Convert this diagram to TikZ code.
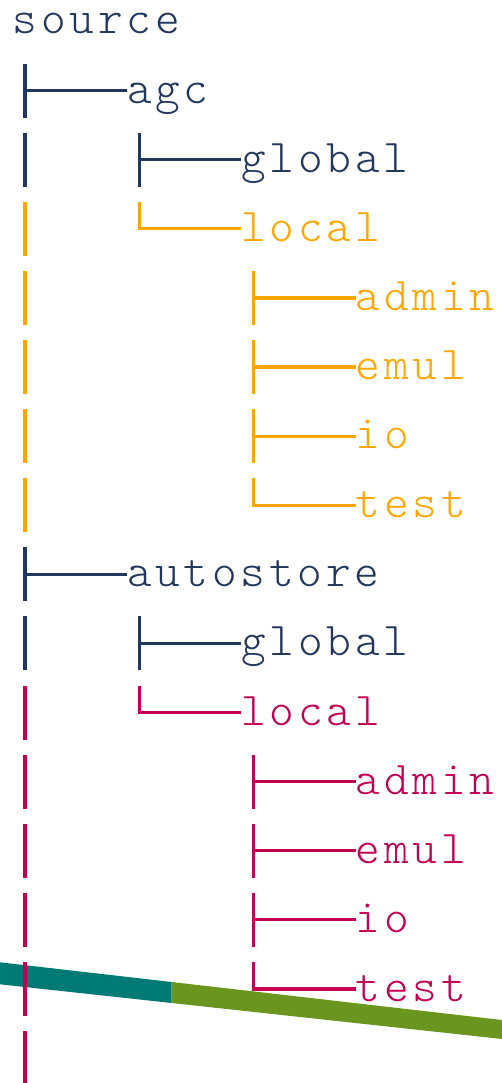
\documentclass[tikz,border=0pt]{standalone}
\usepackage{fontspec}
% light typewriter face, tracked out to a 28.5pt character pitch
\newfontfamily\treefont{lmmonolt10-regular.otf}[LetterSpace=8.14]
\definecolor{navy}{HTML}{22375E}
\definecolor{amber}{HTML}{FFA500}
\definecolor{crimson}{HTML}{C30052}
\definecolor{bandteal}{HTML}{007A74}
\definecolor{bandolive}{HTML}{6A961F}
\tikzset{
  lbl/.style={inner sep=0pt, outer sep=0pt, anchor=base west,
    text height=20pt, text depth=0pt,
    font=\treefont\fontsize{47}{47}\selectfont},
  link/.style={line width=3.2pt},
}
\begin{document}
\begin{tikzpicture}[x=1pt, y=-1pt]
\useasboundingbox (0,0) rectangle (502,1083);

% diagonal band behind the tree
\fill[bandteal]  (0,962.3) -- (171.7,982.0) -- (171.7,1003.0) -- (0,984.3) -- cycle;
\fill[bandolive] (171.7,982.0) -- (502,1020) -- (502,1039) -- (171.7,1003.0) -- cycle;

% row centres
\foreach \i in {0,...,15} \coordinate (r\i) at (0,{21.5+69.1*\i});

% labels
\node[lbl, text=navy]    (src)  at (12.6,34)     {source};
\node[lbl, text=navy]    (agc)  at (127.0,103.1) {agc};
\node[lbl, text=navy]    (ag)   at (241.4,172.2) {global};
\node[lbl, text=amber]   (al)   at (241.4,241.3) {local};
\node[lbl, text=amber]   (aad)  at (355.8,310.4) {admin};
\node[lbl, text=amber]   (aem)  at (355.8,379.5) {emul};
\node[lbl, text=amber]   (aio)  at (355.8,448.6) {io};
\node[lbl, text=amber]   (ate)  at (355.8,517.7) {test};
\node[lbl, text=navy]    (aus)  at (127.0,586.8) {autostore};
\node[lbl, text=navy]    (sg)   at (241.4,655.9) {global};
\node[lbl, text=crimson] (sl)   at (241.4,725.0) {local};
\node[lbl, text=crimson] (sad)  at (355.8,794.1) {admin};
\node[lbl, text=crimson] (sem)  at (355.8,863.2) {emul};
\node[lbl, text=crimson] (sio)  at (355.8,932.3) {io};
\node[lbl, text=crimson] (ste)  at (355.8,1001.4){test};

% column positions of the tree guides
\coordinate (c0) at (25,0);
\coordinate (c1) at (139.4,0);
\coordinate (c2) at (253.8,0);

% source -> agc
\draw[link, navy] ([yshift=27pt]c0 |- r1) -- ([yshift=-27pt]c0 |- r1);
\draw[link, navy] (c0 |- r1) -- (agc.west |- r1);
% agc -> global
\draw[link, navy] ([yshift=27pt]c0 |- r2) -- ([yshift=-27pt]c0 |- r2);
\draw[link, navy] ([yshift=27pt]c1 |- r2) -- ([yshift=-27pt]c1 |- r2);
\draw[link, navy] (c1 |- r2) -- (ag.west |- r2);
% agc -> local
\draw[link, amber] ([yshift=27pt]c0 |- r3) -- ([yshift=-27pt]c0 |- r3);
\draw[link, amber] ([yshift=27pt]c1 |- r3) -- (c1 |- r3) -- (al.west |- r3);
% local -> admin, emul, io, test
\foreach \row/\leaf in {4/aad, 5/aem, 6/aio} {
  \draw[link, amber] ([yshift=27pt]c0 |- r\row) -- ([yshift=-27pt]c0 |- r\row);
  \draw[link, amber] ([yshift=27pt]c2 |- r\row) -- ([yshift=-27pt]c2 |- r\row);
  \draw[link, amber] (c2 |- r\row) -- (\leaf.west |- r\row);
}
\draw[link, amber] ([yshift=27pt]c0 |- r7) -- ([yshift=-27pt]c0 |- r7);
\draw[link, amber] ([yshift=27pt]c2 |- r7) -- (c2 |- r7) -- (ate.west |- r7);

% source -> autostore
\draw[link, navy] ([yshift=27pt]c0 |- r8) -- ([yshift=-27pt]c0 |- r8);
\draw[link, navy] (c0 |- r8) -- (aus.west |- r8);
% autostore -> global
\draw[link, navy] ([yshift=27pt]c0 |- r9) -- ([yshift=-27pt]c0 |- r9);
\draw[link, navy] ([yshift=27pt]c1 |- r9) -- ([yshift=-27pt]c1 |- r9);
\draw[link, navy] (c1 |- r9) -- (sg.west |- r9);
% autostore -> local
\draw[link, crimson] ([yshift=27pt]c0 |- r10) -- ([yshift=-27pt]c0 |- r10);
\draw[link, crimson] ([yshift=27pt]c1 |- r10) -- (c1 |- r10) -- (sl.west |- r10);
% local -> admin, emul, io, test
\foreach \row/\leaf in {11/sad, 12/sem, 13/sio} {
  \draw[link, crimson] ([yshift=27pt]c0 |- r\row) -- ([yshift=-27pt]c0 |- r\row);
  \draw[link, crimson] ([yshift=27pt]c2 |- r\row) -- ([yshift=-27pt]c2 |- r\row);
  \draw[link, crimson] (c2 |- r\row) -- (\leaf.west |- r\row);
}
\draw[link, crimson] ([yshift=27pt]c0 |- r14) -- ([yshift=-27pt]c0 |- r14);
\draw[link, crimson] ([yshift=27pt]c2 |- r14) -- (c2 |- r14) -- (ste.west |- r14);
% guide continuing below
\draw[link, crimson] ([yshift=27pt]c0 |- r15) -- ([yshift=-27pt]c0 |- r15);
\end{tikzpicture}
\end{document}
